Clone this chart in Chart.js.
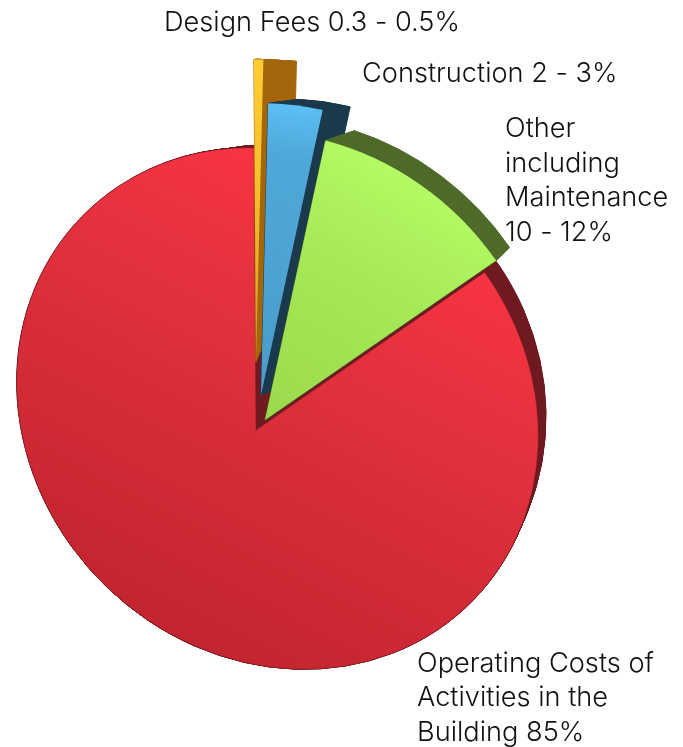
<!DOCTYPE html>
<html><head><meta charset="utf-8">
<style>html,body{margin:0;padding:0;background:#fff}canvas{display:block}</style>
<script src="https://cdn.jsdelivr.net/npm/chart.js@4"></script></head>
<body><canvas id="c" width="683" height="747"></canvas>
<script>
const categories = ["Design Fees","Construction","Other including Maintenance","Operating Costs of Activities in the Building"];
const shareValues = [0.5, 3, 12, 84.5];
const labelLines = [["Design Fees 0.3 - 0.5%"],["Construction 2 - 3%"],["Other","including","Maintenance","10 - 12%"],["Operating Costs of","Activities in the","Building 85%"]];

const faceColors = ["#f5bd2b","#4fa8da","#a6e857","#e0303c"];
const lightColors = ["#ffcd33","#5cc0f5","#b4fc65","#ff3545"];
const darkColors = ["#d99a1e","#4a9cc9","#9bda4c","#c2252f"];
const sideColors = ["#a5660b","#1b3a4e","#4e6b2a","#701b22"];
const faceStops = [.45,.18,.45,.45];
const ROT = Math.PI/4;
const geom = [
 {f:{ax:256,ay:362,cx:278,cy:321,a:276,b:247}, k:{ax:291,ay:285,cx:316,cy:323,a:276,b:247}, g:[263,59,256,360]},
 {f:{ax:261,ay:395,cx:291.6,cy:365,a:276,b:247}, k:{ax:290,ay:385,cx:315.6,cy:361,a:276,b:247}, g:[300,103,265,395]},
 {f:{ax:265,ay:420,cx:286.5,cy:393.5,a:276,b:247}, k:{ax:297,ay:394,cx:299,cy:379,a:276,b:247}, g:[420,170,280,420]},
 {f:{ax:256,ay:430,cx:277.5,cy:408.5,a:274,b:247}, k:{ax:270,ay:360,cx:286,cy:404.5,a:266,b:254}, g:[430,170,190,640]}
];
const labelPos = [[164,[23]],[362,[74]],[505,[129,164,198,233]],[417,[664,698,733]]];

function rayT(p,ang){
  const c=Math.cos(ROT),s=Math.sin(ROT);
  const dx=p.ax-p.cx,dy=p.ay-p.cy;
  const ux=(dx*c+dy*s)/p.a,uy=(-dx*s+dy*c)/p.b;
  const dxr=Math.cos(ang),dyr=Math.sin(ang);
  const vx=(dxr*c+dyr*s)/p.a,vy=(-dxr*s+dyr*c)/p.b;
  const A=vx*vx+vy*vy,B=2*(ux*vx+uy*vy),C=ux*ux+uy*uy-1;
  const t=(-B+Math.sqrt(Math.max(0,B*B-4*A*C)))/(2*A);
  return {x:p.ax+dxr*t,y:p.ay+dyr*t,t:Math.atan2(uy+vy*t,ux+vx*t)};
}
function slicePath(ctx,p,a0,a1){
  const s=rayT(p,a0),e=rayT(p,a1);
  ctx.beginPath();ctx.moveTo(p.ax,p.ay);ctx.lineTo(s.x,s.y);
  ctx.ellipse(p.cx,p.cy,p.a,p.b,ROT,s.t,e.t,false);ctx.closePath();
}
function mix(f,k,t){const o={};for(const n in f)o[n]=f[n]+(k[n]-f[n])*t;return o;}

const sliceDrawer={id:'sliceDrawer',
  beforeDatasetDraw(chart,args){
    const ctx=chart.ctx,els=chart.getDatasetMeta(args.index).data;
    [3,0,1,2].forEach(i=>{
      const {startAngle,endAngle}=els[i].getProps(['startAngle','endAngle'],true);
      const G=geom[i];
      ctx.save();
      ctx.fillStyle=sideColors[i];ctx.strokeStyle=sideColors[i];ctx.lineWidth=1;
      for(let n=30;n>=0;n--){slicePath(ctx,mix(G.f,G.k,n/30),startAngle,endAngle);ctx.fill();ctx.stroke();}
      const g=ctx.createLinearGradient(G.g[0],G.g[1],G.g[2],G.g[3]);
      g.addColorStop(0,lightColors[i]);g.addColorStop(faceStops[i],faceColors[i]);g.addColorStop(1,darkColors[i]);
      slicePath(ctx,G.f,startAngle,endAngle);ctx.fillStyle=g;ctx.fill();
      if(i===3){ctx.strokeStyle='rgba(90,20,25,.35)';ctx.lineWidth=1;ctx.stroke();}
      ctx.restore();
    });
    return false;
  },
  afterDatasetsDraw(chart){
    const ctx=chart.ctx;ctx.save();
    ctx.font='300 27.2px Inter';ctx.fillStyle='#111';ctx.textBaseline='middle';ctx.textAlign='left';
    labelLines.forEach((ls,i)=>ls.forEach((t,j)=>ctx.fillText(t,labelPos[i][0],labelPos[i][1][j])));
    ctx.restore();
  }
};
new Chart(document.getElementById('c'),{type:'pie',
  data:{labels:categories,datasets:[{data:shareValues,backgroundColor:faceColors,borderWidth:0}]},
  options:{responsive:false,animation:false,rotation:-0.4,
    layout:{padding:0},plugins:{legend:{display:false},tooltip:{enabled:false},title:{display:false}}},
  plugins:[sliceDrawer]});
</script></body></html>
